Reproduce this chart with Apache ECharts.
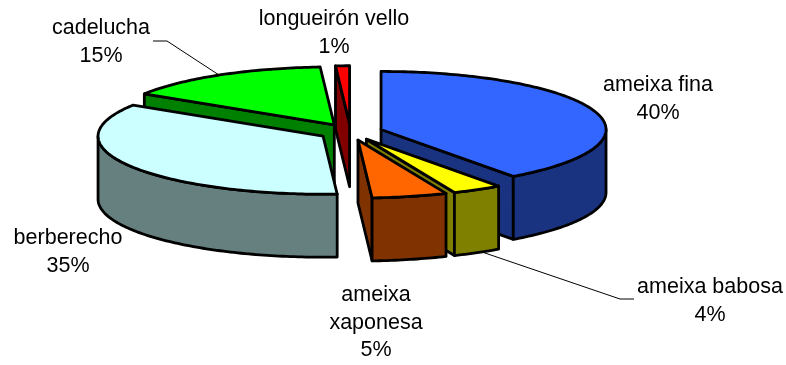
<!DOCTYPE html>
<html>
<head>
<meta charset="utf-8">
<style>
  html, body { margin: 0; background: #fff; }
  #chart { width: 786px; height: 365px; }
</style>
<script src="https://cdn.jsdelivr.net/npm/echarts@6/dist/echarts.min.js"></script>
</head>
<body>
<div id="chart"></div>
<script>
const CATEGORIES = ["ameixa fina", "ameixa babosa", "ameixa xaponesa", "berberecho", "cadelucha", "longueirón vello"];
// babosa and xaponesa, the labels round them to 4% and 5%
const VALUES = [40, 3.6, 5.4, 35, 15, 1];
const TOP_COLORS = ["#3366ff", "#ffff00", "#ff6600", "#ccffff", "#00ff00", "#ff0000"];
const SIDE_COLORS = ["#1a3380", "#808000", "#803300", "#668080", "#008000", "#800000"];

// back slices are painted first, the front ones cover them
const DRAW_ORDER = [4, 5, 0, 3, 1, 2];

// fake 3D projection, fitted on the picture
const CX = 350.6;
const CY = 132;
const RX = 225;
const RY = 58;
const DEPTH = 63;
const EXPLODE = 32;

const LABEL_LAYOUT = [
  { x: 658, y: 85 },
  { x: 710, y: 287 },
  { x: 376, y: 295, wrap: true },
  { x: 68, y: 238 },
  { x: 101, y: 28 },
  { x: 334, y: 19 },
];
const LEADERS = [
  [[153, 41], [167, 41], [219, 75]],
  [[482, 252], [620, 299], [634, 299]],
];

const total = VALUES.reduce((a, b) => a + b, 0);
const rad = (deg) => (deg * Math.PI) / 180;

function arcPoints(ox, oy, from, to, dy) {
  const pts = [];
  const steps = Math.max(2, Math.ceil(to - from));
  for (let i = 0; i <= steps; i++) {
    const a = rad(from + ((to - from) * i) / steps);
    pts.push([ox + RX * Math.sin(a), oy - RY * Math.cos(a) + dy]);
  }
  return pts;
}

function poly(points, fill) {
  return {
    type: "polygon",
    shape: { points },
    style: { fill, stroke: "#000", lineWidth: 2.8, lineJoin: "round" },
  };
}

function renderSlice(params, api) {
  const idx = DRAW_ORDER[params.dataIndex];
  const start = (api.value(0) / total) * 360;
  const end = ((api.value(0) + api.value(1)) / total) * 360;
  const mid = rad((start + end) / 2);
  const ox = CX + EXPLODE * Math.sin(mid);
  const oy = CY - (EXPLODE * RY * Math.cos(mid)) / RX;
  const children = [];

  // cut faces, only the ones turned toward the viewer
  [[start, Math.sin(rad(start)) < 0], [end, Math.sin(rad(end)) > 0]].forEach(([ang, visible]) => {
    if (!visible) return;
    const rim = arcPoints(ox, oy, ang, ang, 0)[0];
    children.push(poly([[ox, oy], rim, [rim[0], rim[1] + DEPTH], [ox, oy + DEPTH]], SIDE_COLORS[idx]));
  });

  // outer wall for the front half of the rim
  const from = Math.max(start, 90);
  const to = Math.min(end, 270);
  if (to > from) {
    const wall = arcPoints(ox, oy, from, to, 0).concat(arcPoints(ox, oy, from, to, DEPTH).reverse());
    children.push(poly(wall, SIDE_COLORS[idx]));
  }

  children.push(poly([[ox, oy]].concat(arcPoints(ox, oy, start, end, 0)), TOP_COLORS[idx]));
  return { type: "group", children };
}

function cumulative(idx) {
  return VALUES.slice(0, idx).reduce((a, b) => a + b, 0);
}

function labelElements() {
  const texts = CATEGORIES.map((name, i) => {
    const pos = LABEL_LAYOUT[i];
    const title = pos.wrap ? name.replace(" ", "\n") : name;
    return {
      type: "text",
      x: pos.x,
      y: pos.y - 13.5,
      style: {
        text: `${title}\n${Math.round(VALUES[i])}%`,
        fill: "#000",
        font: '21.5px "Liberation Sans", Arial, sans-serif',
        lineHeight: 27.5,
        align: "center",
        verticalAlign: "top",
      },
    };
  });
  const lines = LEADERS.map((points) => ({
    type: "polyline",
    shape: { points },
    style: { stroke: "#000", lineWidth: 1, fill: null },
  }));
  return lines.concat(texts);
}

const chart = echarts.init(document.getElementById("chart"), null, { renderer: "canvas" });
chart.setOption({
  animation: false,
  backgroundColor: "#fff",
  series: [
    {
      type: "custom",
      coordinateSystem: "none",
      silent: true,
      z: 1,
      renderItem: renderSlice,
      encode: { value: [0, 1] },
      data: DRAW_ORDER.map((i) => [cumulative(i), VALUES[i]]),
    },
  ],
  graphic: { elements: labelElements() },
});
</script>
</body>
</html>
